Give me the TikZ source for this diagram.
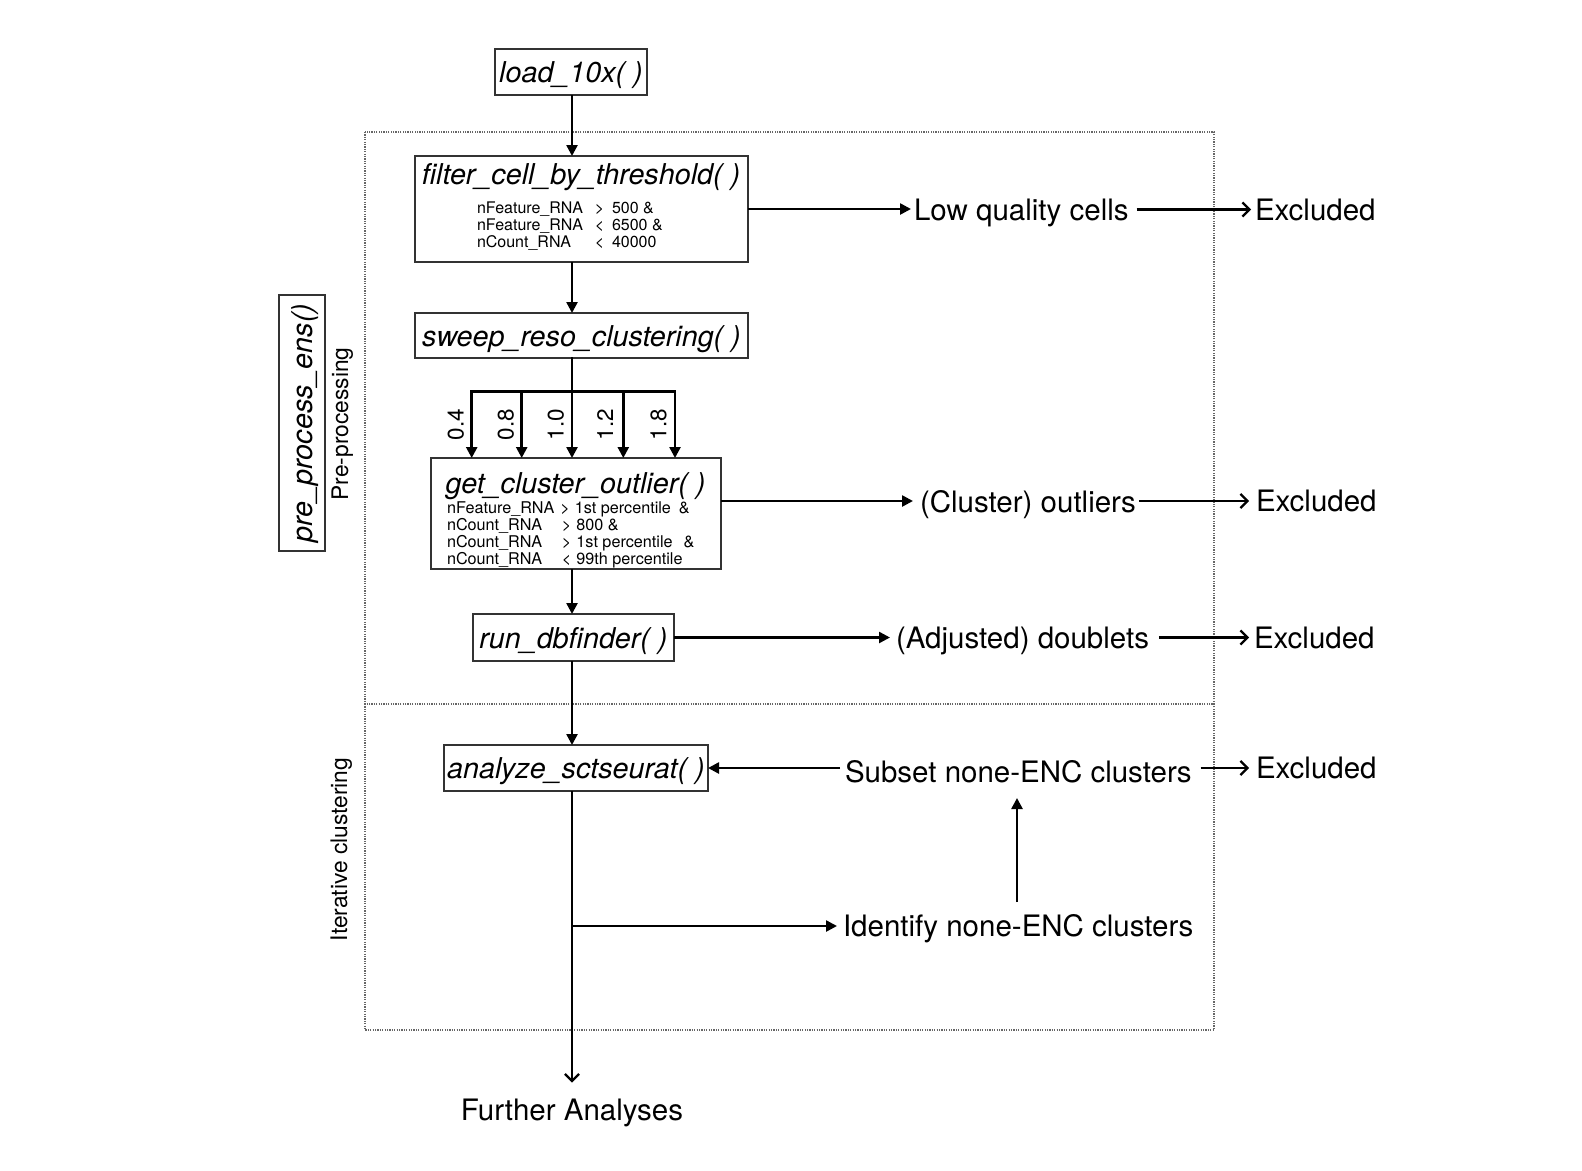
\documentclass[tikz,border=0pt]{standalone}
\usepackage{fontspec}
\setmainfont{TeX Gyre Heros}
\usetikzlibrary{arrows.meta}

\begin{document}
\begin{tikzpicture}[x=1pt,y=-1pt,
  every node/.style={inner sep=0pt, outer sep=0pt},
  txt/.style={font=\fontsize{29.5}{34}\selectfont, text height=21pt, text depth=0pt},
  fname/.style={font=\fontsize{28.7}{34}\selectfont\itshape, text height=21pt, text depth=0pt},
  fnbox/.style={draw=black!80, line width=1.5pt, fname},
  frame/.style={draw=black!80, line width=1.5pt},
  condA/.style={font=\fontsize{16}{16.6}\selectfont},
  condB/.style={font=\fontsize{16.2}{16.8}\selectfont},
  side/.style={font=\fontsize{22.8}{26}\selectfont, text height=16pt, text depth=0pt, rotate=90},
  reso/.style={font=\fontsize{22.5}{26}\selectfont, text height=16pt, text depth=0pt, rotate=90},
  flow/.style={draw=black, line width=2.5pt, -{Triangle[length=11pt,width=11pt]}},
  plain/.style={draw=black, line width=2.5pt, line cap=rect},
  excl/.style={draw=black, line width=2.3pt, -{Straight Barb[length=7pt,width=14pt]}},
  region/.style={draw=black!60, line width=1.2pt, dash pattern=on 1.2pt off 1.2pt},
]
\fill[white] (0,0) rectangle (1582,1170);
\useasboundingbox (0,0) rectangle (1582,1170);

% section frames
\draw[region] (365,132) rectangle (1214,704);
\draw[region] (365,704) rectangle (1214,1030);

% x positions of the main spine and of the feedback arrow
\coordinate (sp) at (572,0);
\coordinate (up) at (1017,0);

% wrapper function and section labels
\node[fnbox, rotate=90, minimum width=256pt, minimum height=46pt] (pre) at (302,423) {pre\_process\_ens()};
\node[side] (prep) at (340,424) {Pre-processing};
\node[side] (iter) at (339,849.5) {Iterative clustering};

% function boxes
\node[fnbox, minimum width=152pt, minimum height=46pt] (load) at (571,72) {load\_10x( )};

\node[frame, minimum width=333pt, minimum height=106pt] (filt) at (581.5,209) {};
\node[fname] (filtT) at (581,173.5) {filter\_cell\_by\_threshold( )};
\node[condA, anchor=base west] (filtC) at (477,213.5) {\begin{tabular}[t]{@{}l@{\hspace{12pt}}c@{\hspace{7.7pt}}l@{}}
nFeature\_RNA & > & 500 \&\\
nFeature\_RNA & < & 6500 \&\\
nCount\_RNA & < & 40000
\end{tabular}};

\node[fnbox, minimum width=333pt, minimum height=45pt] (sweep) at (581.5,335.5) {sweep\_reso\_clustering( )};

\node[frame, minimum width=290pt, minimum height=111pt] (get) at (576,513.5) {};
\node[fname] (getT) at (575.5,483) {get\_cluster\_outlier( )};
\node[condB, anchor=base west] (getC) at (447,513) {\begin{tabular}[t]{@{}l@{}}
nFeature\_RNA\hspace{6pt}>\hspace{5pt}1st percentile\hspace{8pt}\&\\
\makebox[115pt][l]{nCount\_RNA}>\hspace{5pt}800 \&\\
\makebox[115pt][l]{nCount\_RNA}>\hspace{5pt}1st percentile\hspace{11pt}\&\\
\makebox[115pt][l]{nCount\_RNA}<\hspace{5pt}99th percentile
\end{tabular}};

\node[fnbox, minimum width=201pt, minimum height=47pt] (db) at (573.5,637.5) {run\_dbfinder( )};
\node[fnbox, minimum width=264pt, minimum height=46pt] (ana) at (576,768) {analyze\_sctseurat( )};

% outcome labels
\node[txt, anchor=west] (lowq) at (914,209.5) {Low quality cells};
\node[txt, anchor=west] (ex1) at (1255,209.5) {Excluded};
\node[txt, anchor=west] (outl) at (920,502) {(Cluster) outliers};
\node[txt, anchor=west] (ex2) at (1256,501) {Excluded};
\node[txt, anchor=west] (adj) at (896,638) {(Adjusted) doublets};
\node[txt, anchor=west] (ex3) at (1254,637.5) {Excluded};
\node[txt, anchor=west] (subs) at (845,772) {Subset none-ENC clusters};
\node[txt, anchor=west] (ex4) at (1256,768) {Excluded};
\node[txt, anchor=west] (idn) at (843,926) {Identify none-ENC clusters};
\node[txt] (fa) at (572,1110) {Further Analyses};

% resolution sweep fork
\coordinate (fork) at (572,391.7);
\coordinate (b1) at (471.7,391.7);
\coordinate (b2) at (521.7,391.7);
\coordinate (b3) at (572,391.7);
\coordinate (b4) at (623.3,391.7);
\coordinate (b5) at (675,391.7);
\node[reso] (r1) at (455.7,424.5) {0.4};
\node[reso] (r2) at (505.7,424.5) {0.8};
\node[reso] (r3) at (555.7,424.5) {1.0};
\node[reso] (r4) at (605,424.5) {1.2};
\node[reso] (r5) at (658.3,424.5) {1.8};

% main spine
\draw[flow] (sp |- load.south) -- (sp |- filt.north);
\draw[flow] (sp |- filt.south) -- (sp |- sweep.north);
\draw[plain] (sp |- sweep.south) -- (fork);
\draw[plain] (b1) -- (b5);
\foreach \b in {b1,b2,b3,b4,b5} \draw[flow] (\b) -- (\b |- get.north);
\draw[flow] (sp |- get.south) -- (sp |- db.north);
\draw[flow] (sp |- db.south) -- (sp |- ana.north);
\draw[excl, shorten >=17pt] (sp |- ana.south) -- (fa.north);

% side branches
\draw[flow, shorten >=3pt] (filt.east) -- (filt.east -| lowq.west);
\draw[excl, shorten <=8pt, shorten >=4pt] (lowq.east |- ex1.west) -- (ex1.west);
\draw[flow, shorten >=7pt] (get.east |- ex2.west) -- (outl.west |- ex2.west);
\draw[excl, shorten <=3pt, shorten >=7pt] (outl.east |- ex2.west) -- (ex2.west);
\draw[flow, shorten >=6pt] (db.east) -- (db.east -| adj.west);
\draw[excl, shorten <=10pt, shorten >=5pt] (adj.east |- ex3.west) -- (ex3.west);
\draw[flow, shorten <=5pt] (ana.east -| subs.west) -- (ana.east);
\draw[excl, shorten <=9pt, shorten >=7pt] (subs.east |- ex4.west) -- (ex4.west);
\draw[flow, shorten >=6pt] (sp |- idn.west) -- (idn.west);
\draw[flow, shorten <=13.5pt, shorten >=15.5pt] (up |- idn.north) -- (up |- subs.south);
\end{tikzpicture}
\end{document}
